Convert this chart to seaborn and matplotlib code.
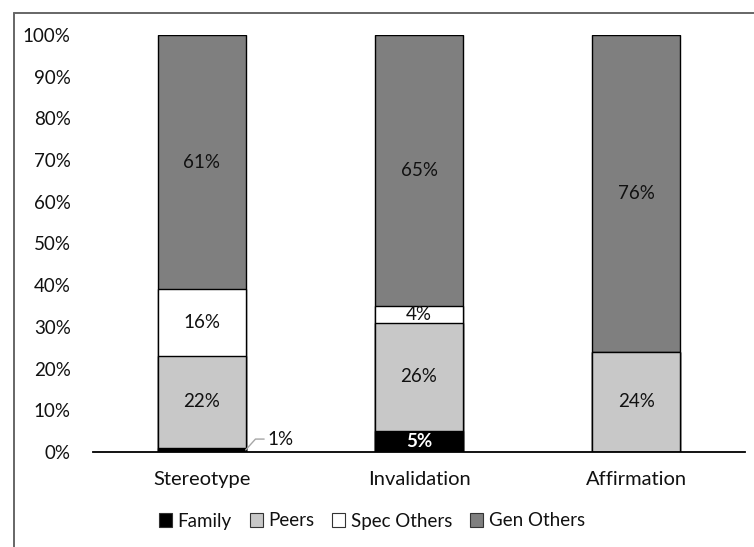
import matplotlib
matplotlib.use("Agg")
import matplotlib.pyplot as plt
from matplotlib.lines import Line2D
from matplotlib.patches import Patch
import numpy as np
import pandas as pd
import seaborn as sns

# Share of each source by type of message (percent)
categories = ["Stereotype", "Invalidation", "Affirmation"]
series_names = ["Family", "Peers", "Spec Others", "Gen Others"]
family = [1, 5, 0]
peers = [22, 26, 24]
spec_others = [16, 4, 0]
gen_others = [61, 65, 76]
y_ticks = [0, 10, 20, 30, 40, 50, 60, 70, 80, 90, 100]

colors = {"Family": "#000000", "Peers": "#c8c8c8",
          "Spec Others": "#ffffff", "Gen Others": "#7f7f7f"}

sns.set_theme(style="white")
plt.rcParams["font.family"] = ["Lato", "DejaVu Sans"]
text_color = "#111111"

values = {"Family": family, "Peers": peers,
          "Spec Others": spec_others, "Gen Others": gen_others}
df = pd.DataFrame(values, index=categories)
cum = df.cumsum(axis=1)

fig = plt.figure(figsize=(7.54, 5.47), dpi=100)
ax = fig.add_axes([93 / 754, 1 - 452 / 547, (745 - 93) / 754, (452 - 35) / 547])

# Stack by drawing cumulative totals from the top series down
for name in reversed(series_names):
    sub = pd.DataFrame({"cat": categories, "val": cum[name].values})
    sns.barplot(data=sub, x="cat", y="val", order=categories, color=colors[name],
                saturation=1, width=0.405, edgecolor="#000000", linewidth=1.0,
                ax=ax, zorder=2)

ax.set_xlim(-0.5, 2.5)
ax.set_ylim(0, 100)
ax.set_yticks(y_ticks)
ax.set_yticklabels([f"{t}%" for t in y_ticks], fontsize=13.5, color=text_color)
ax.tick_params(axis="y", length=0, pad=16)
ax.tick_params(axis="x", length=0, pad=14, labelsize=14.5, labelcolor=text_color)
ax.set_xlabel("")
ax.set_ylabel("")
for side in ["top", "right", "left"]:
    ax.spines[side].set_visible(False)
ax.spines["bottom"].set_color("#000000")
ax.spines["bottom"].set_linewidth(1.3)
ax.spines["bottom"].set_zorder(5)

# Value labels
for i, cat in enumerate(categories):
    base = 0
    for name in series_names:
        v = values[name][i]
        if v > 0:
            mid = base + v / 2
            if name == "Family" and v < 3:
                x_edge = i + 0.405 / 2
                ax.plot([x_edge, x_edge + 0.045, x_edge + 0.085], [v / 2, 3.1, 3.1],
                        color="#a6a6a6", lw=1.0, clip_on=False, zorder=3)
                ax.text(x_edge + 0.1, 3.1, f"{v}%", ha="left", va="center",
                        fontsize=13.5, color=text_color)
            elif name == "Family":
                ax.text(i, mid, f"{v}%", ha="center", va="center", fontsize=13.5,
                        color="white", fontweight="bold", zorder=4)
            else:
                ax.text(i, mid, f"{v}%", ha="center", va="center", fontsize=13.5,
                        color=text_color, zorder=4)
        base += v

# Legend
handles = [Patch(facecolor=colors[n], edgecolor="#333333", linewidth=0.8)
           for n in series_names]
fig.legend(handles, series_names, loc="center", bbox_to_anchor=(372 / 754, 1 - 521 / 547),
           ncol=4, frameon=False, fontsize=13.5, handlelength=0.7, handleheight=0.7,
           handletextpad=0.3, columnspacing=0.95, labelcolor=text_color)

# Outer frame of the chart area
fx = 14 / 754
fy = 1 - 13 / 547
fig.add_artist(Line2D([fx, fx], [0, fy], transform=fig.transFigure,
                      color="#666666", lw=1.4))
fig.add_artist(Line2D([fx, 1], [fy, fy], transform=fig.transFigure,
                      color="#666666", lw=1.4))

fig.savefig("out.png", dpi=100, facecolor="white")
